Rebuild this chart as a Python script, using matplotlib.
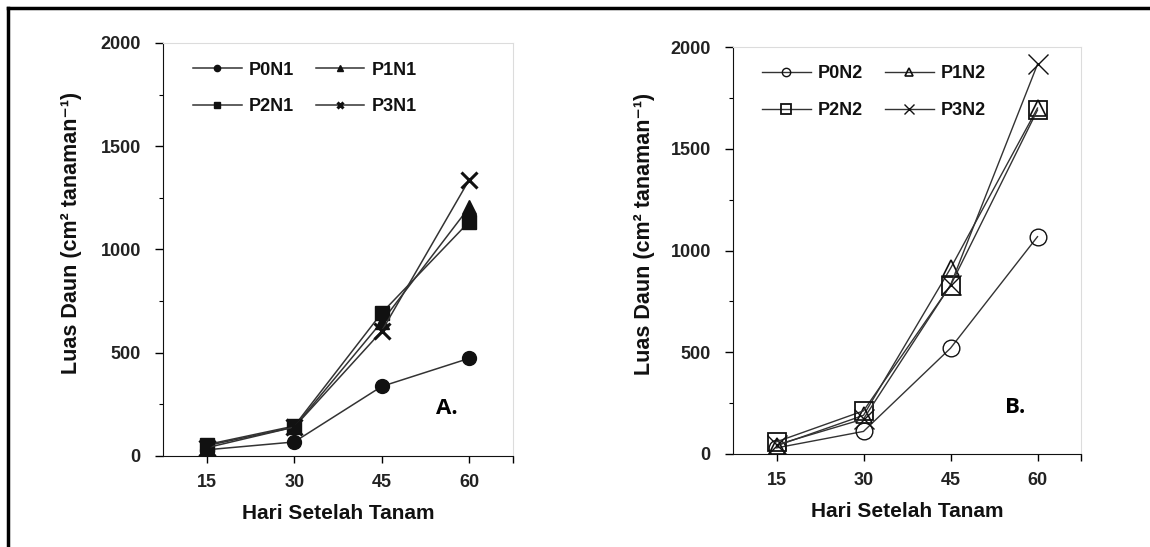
import matplotlib.pyplot as plt
from matplotlib.lines import Line2D
from matplotlib.ticker import MultipleLocator, FixedLocator

plt.rcParams['font.family'] = ['Liberation Sans', 'DejaVu Sans']

# data (hari setelah tanam)
hst = [15, 30, 45, 60]

# panel A : N1
labels_a = ['P0N1', 'P1N1', 'P2N1', 'P3N1']
p0n1 = [30, 68, 337, 473]
p1n1 = [50, 140, 650, 1205]
p2n1 = [55, 145, 693, 1135]
p3n1 = [40, 140, 605, 1338]

# panel B : N2
labels_b = ['P0N2', 'P1N2', 'P2N2', 'P3N2']
p0n2 = [30, 111, 520, 1068]
p1n2 = [40, 190, 912, 1700]
p2n2 = [60, 212, 828, 1690]
p3n2 = [45, 172, 830, 1915]

yticks = [0, 500, 1000, 1500, 2000]

fig = plt.figure(figsize=(11.5, 5.47), dpi=100)

ax_a = fig.add_axes([163 / 1150, 1 - 456 / 547, 350 / 1150, 413 / 547])
ax_b = fig.add_axes([733 / 1150, 1 - 454 / 547, 348 / 1150, 407 / 547])

line_c = '#333333'
mark_c = '#111111'

# panel A: filled markers
series_a = [(p0n1, 'o', 10, 1), (p1n1, '^', 10, 1), (p2n1, 's', 10, 1), (p3n1, 'x', 11, 2.2)]
for (vals, mk, ms, mew), lab in zip(series_a, labels_a):
    ax_a.plot(hst, vals, color=line_c, lw=1.1, marker=mk, ms=ms, mfc=mark_c,
              mec=mark_c, mew=mew, label=lab)

# panel B: open markers
series_b = [(p0n2, 'o', 12, 1), (p1n2, '^', 12, 1.2), (p2n2, 's', 13, 1.3), (p3n2, 'x', 14, 1)]
for (vals, mk, ms, mew), lab in zip(series_b, labels_b):
    ax_b.plot(hst, vals, color=line_c, lw=1.0, marker=mk, ms=ms, mfc='none',
              mec=mark_c, mew=mew, label=lab)

for ax, tag, lx in [(ax_a, 'A.', -0.231), (ax_b, 'B.', -0.224)]:
    ax.set_xlim(7.5, 67.5)
    ax.set_ylim(0, 2000)
    ax.set_xticks(hst)
    ax.xaxis.set_minor_locator(FixedLocator([67.5]))
    ax.set_yticks(yticks)
    ax.yaxis.set_minor_locator(MultipleLocator(250))
    ax.tick_params(axis='y', which='major', length=6, width=1, direction='out', pad=10,
                   labelsize=13, labelcolor='#222222')
    ax.tick_params(axis='y', which='minor', length=3, width=0.8, direction='out')
    ax.tick_params(axis='x', which='both', length=5, width=1, direction='out', pad=8,
                   labelsize=13, labelcolor='#222222')
    for t in ax.get_xticklabels() + ax.get_yticklabels():
        t.set_fontweight('bold')
    ax.spines['left'].set_color('#111111')
    ax.spines['bottom'].set_color('#111111')
    ax.spines['top'].set_color('#dcdcdc')
    ax.spines['right'].set_color('#dcdcdc')
    ax.set_xlabel('Hari Setelah Tanam', fontsize=15, fontweight='bold', color='#111111',
                  labelpad=9)
    ax.set_ylabel('Luas Daun (cm² tanaman⁻¹)', fontsize=15.5,
                  fontweight='bold', color='#111111')
    ax.yaxis.set_label_coords(lx, 0.54)
    ax.text(0.81, 0.115, tag, transform=ax.transAxes, fontsize=16, fontweight='bold',
            family='Open Sans', ha='center', va='center')

# legend filled row by row: P0 P1 / P2 P3
order = [0, 2, 1, 3]
for ax, ms_scale, bx in [(ax_a, 0.45, 0.085), (ax_b, 0.5, 0.083)]:
    h, l = ax.get_legend_handles_labels()
    leg = ax.legend([h[i] for i in order], [l[i] for i in order], loc='upper left',
                    bbox_to_anchor=(bx, 0.955), ncol=2, frameon=False, fontsize=13,
                    markerscale=ms_scale, handlelength=2.7, handletextpad=0.4,
                    columnspacing=1.2, labelspacing=1.1, borderpad=0, borderaxespad=0)
    for t in leg.get_texts():
        t.set_fontweight('bold')
        t.set_color('#111111')

# frame lines (top and left only)
fig.add_artist(Line2D([8 / 1150, 1], [1 - 8 / 547, 1 - 8 / 547], transform=fig.transFigure,
                      color='black', lw=2.5))
fig.add_artist(Line2D([8 / 1150, 8 / 1150], [0, 1 - 8 / 547], transform=fig.transFigure,
                      color='black', lw=2.5))

fig.savefig('out.png', dpi=100)
